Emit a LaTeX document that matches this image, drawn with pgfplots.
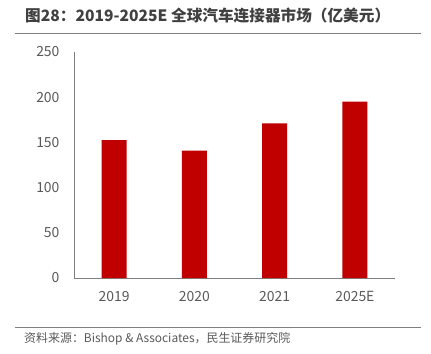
\documentclass[border=0pt]{standalone}
\usepackage{fontspec}
\usepackage{pgfplots}
\pgfplotsset{compat=1.18}
\newfontfamily\cjk{Noto Sans CJK SC}
\definecolor{barred}{HTML}{C00000}
\definecolor{txtgray}{HTML}{595959}
\definecolor{titlegray}{HTML}{404040}
\definecolor{linegray}{HTML}{7F7F7F}
\begin{document}
\begin{tikzpicture}[x=1bp,y=1bp]
\path[use as bounding box] (0,0) rectangle (431,354);
\node[anchor=west,inner sep=0,text=titlegray,font=\cjk\bfseries\fontsize{15.7}{16}\selectfont] at (25,338) {图28：2019-2025E 全球汽车连接器市场（亿美元）};
\draw[linegray,line width=1.5bp] (15,320.5) -- (421,320.5);
\draw[linegray,line width=1bp] (15,26) -- (421,26);
\node[anchor=west,inner sep=0,text=txtgray,font=\cjk\fontsize{12}{12}\selectfont] at (24,15) {资料来源：Bishop \& Associates，民生证券研究院};
\begin{axis}[
  at={(74bp,76bp)}, anchor=south west,
  width=321bp, height=226bp, scale only axis,
  xmin=-0.5, xmax=3.5, ymin=0, ymax=250,
  xtick={0,1,2,3}, xticklabels={2019,2020,2021,2025E},
  ytick={0,50,100,150,200,250},
  /pgf/number format/assume math mode=true,
  axis x line=bottom, axis y line=left,
  axis line style={-, linegray, line width=1bp},
  major tick length=0,
  tick label style={font=\cjk\fontsize{14}{14}\selectfont, text=txtgray},
  yticklabel style={xshift=-11bp},
  xticklabel style={yshift=-10bp},
  ybar, bar width=25bp,
]
\addplot[fill=barred, draw=none] coordinates {(0,152.5) (1,141) (2,171) (3,195)};
\end{axis}
\end{tikzpicture}
\end{document}
